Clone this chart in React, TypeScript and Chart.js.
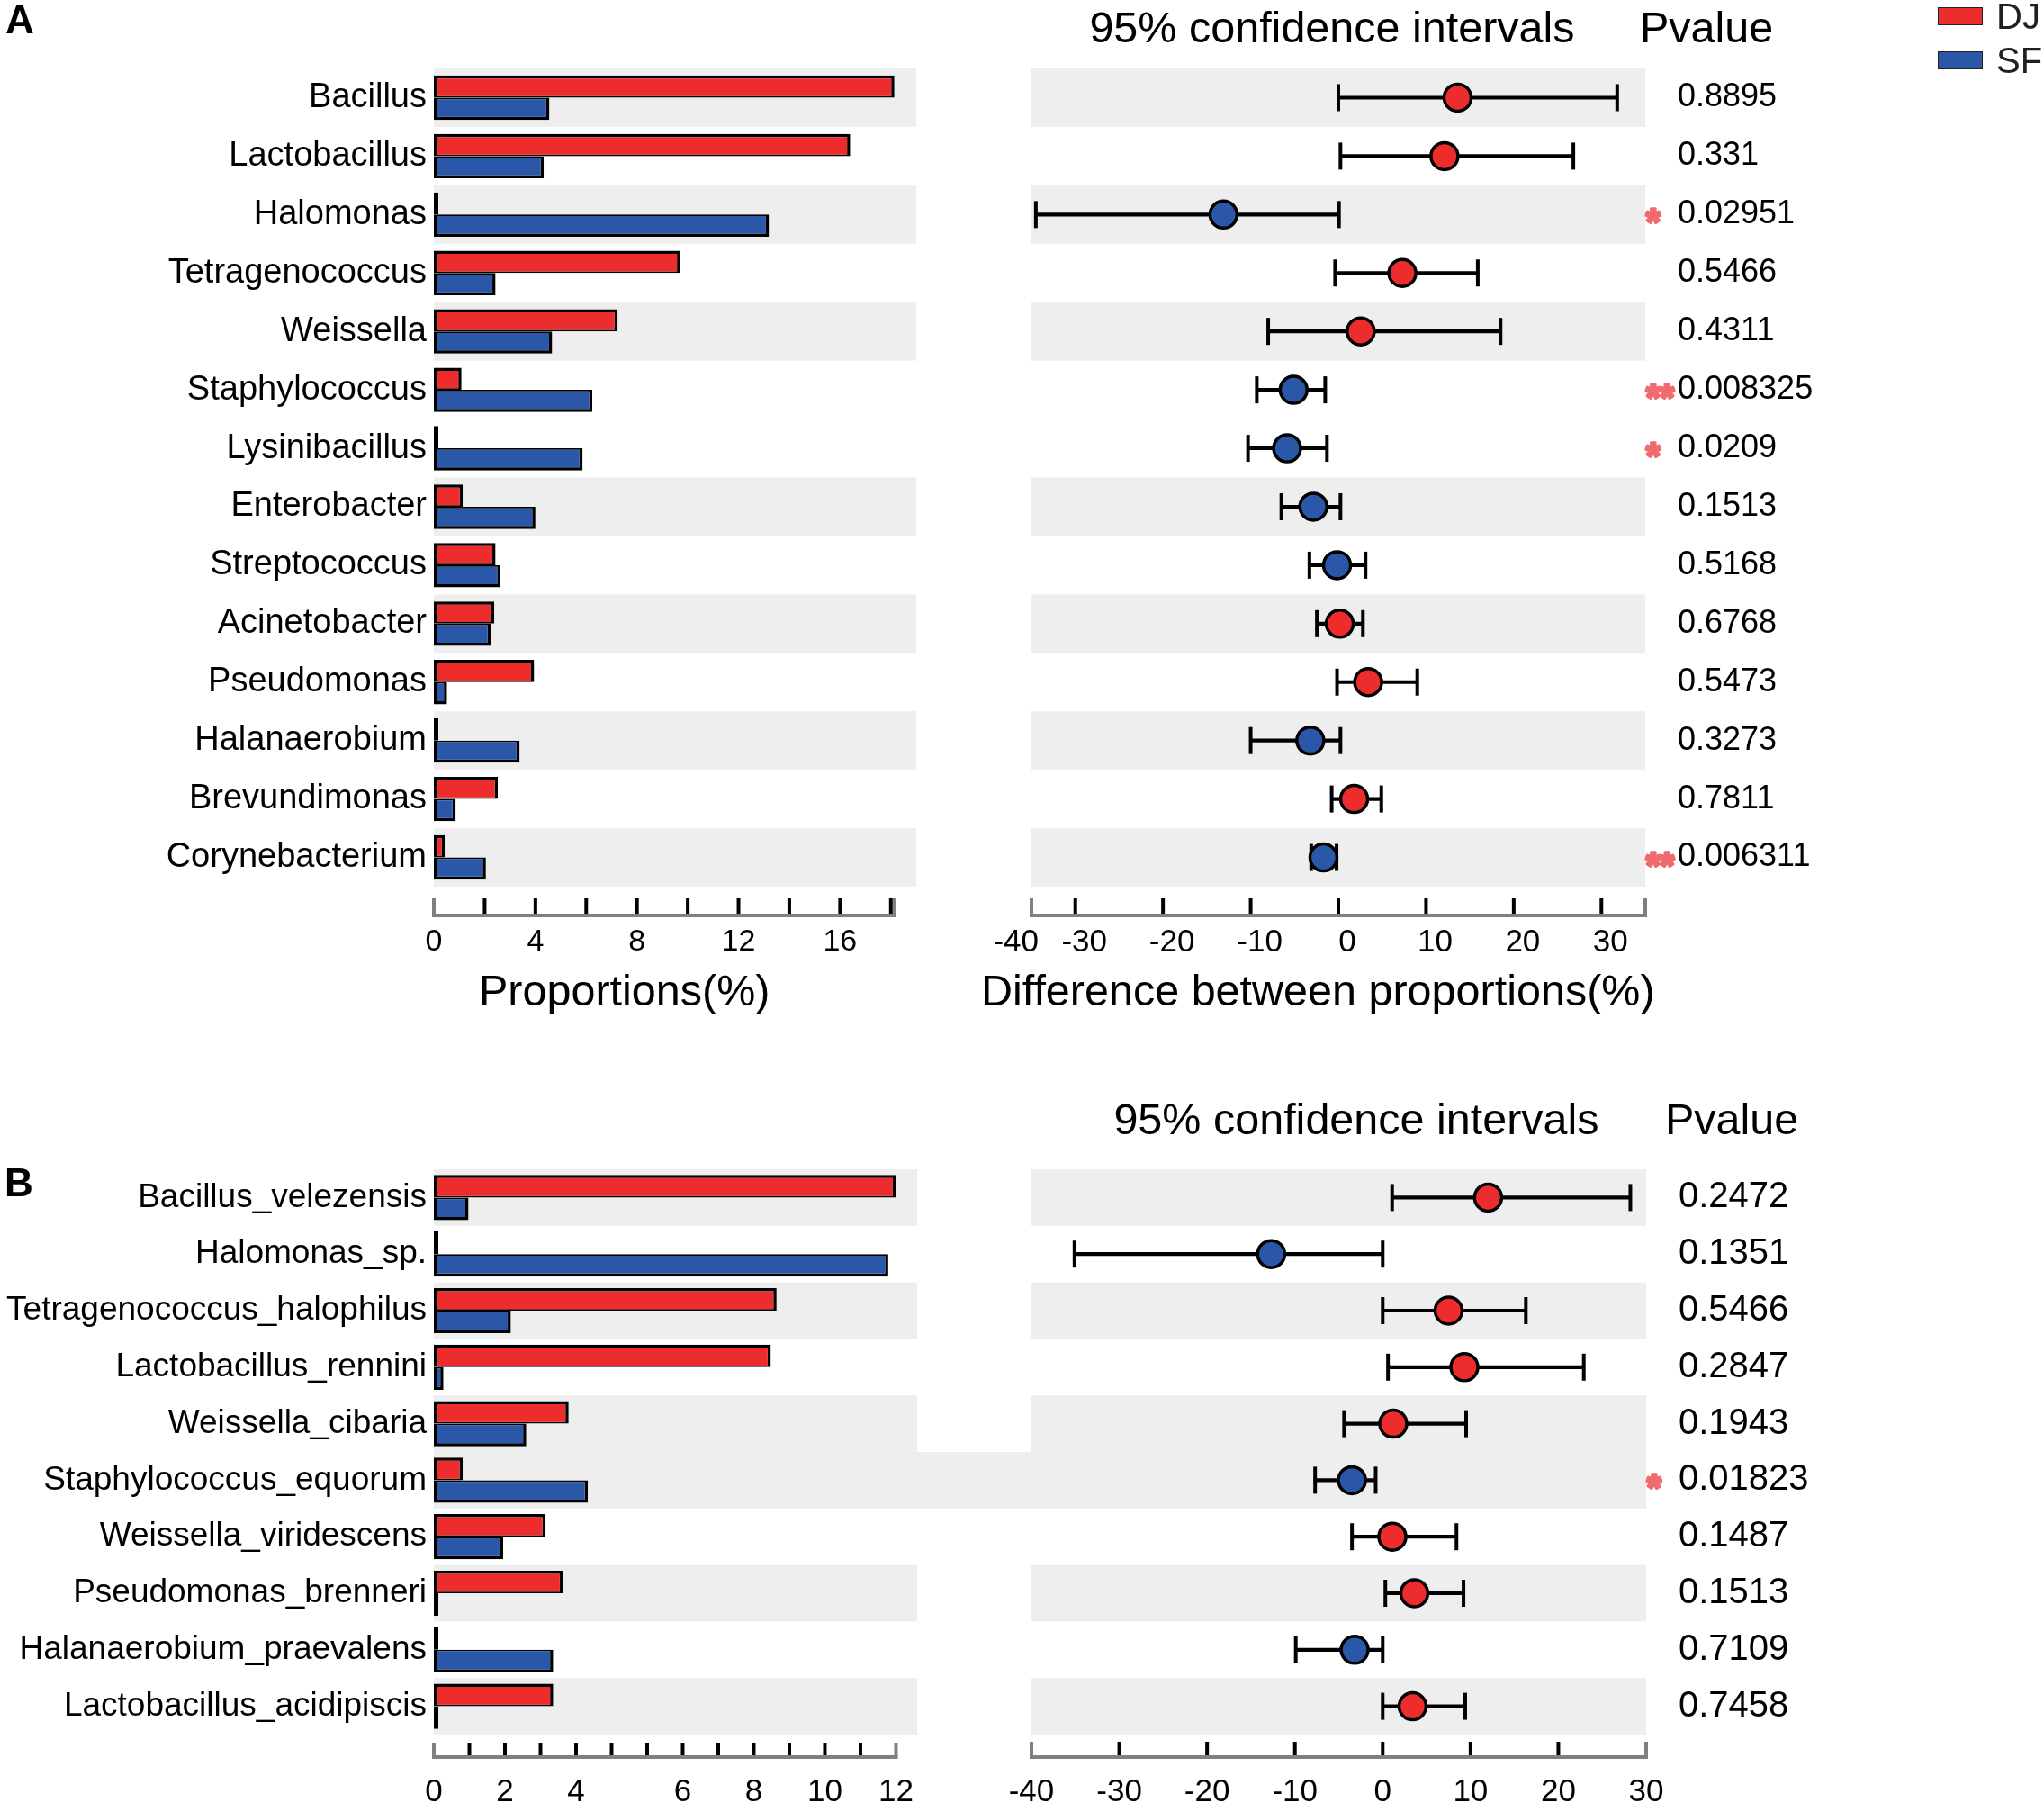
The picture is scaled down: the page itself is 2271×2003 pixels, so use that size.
import React, { useEffect, useRef } from "react";
import { Chart, registerables } from "chart.js";

Chart.register(...registerables);

const FONT = "'Liberation Sans', Arial, Helvetica, sans-serif";
const RED = "#ED2D2D";
const BLUE = "#2B57A8";
const BAND = "#EFEEEE";
const AXIS_GREY = "#808080";
const STAR = "#EF6B6F";

// ---------------- Panel A (genus) ----------------
const generaA = [
  "Bacillus", "Lactobacillus", "Halomonas", "Tetragenococcus", "Weissella",
  "Staphylococcus", "Lysinibacillus", "Enterobacter", "Streptococcus",
  "Acinetobacter", "Pseudomonas", "Halanaerobium", "Brevundimonas", "Corynebacterium",
];
const djA = [18.14, 16.4, 0.18, 9.7, 7.24, 1.09, 0.18, 1.14, 2.43, 2.38, 3.95, 0.18, 2.52, 0.43];
const sfA = [4.55, 4.33, 13.2, 2.43, 4.66, 6.24, 5.86, 4.0, 2.62, 2.24, 0.52, 3.38, 0.86, 2.05];
const diffA = [13.6, 12.1, -13.1, 7.3, 2.55, -5.1, -5.85, -2.85, -0.15, 0.16, 3.4, -3.2, 1.8, -1.7];
const lowA = [0.0, 0.24, -34.5, -0.37, -8.0, -9.3, -10.3, -6.5, -3.3, -2.45, -0.15, -10.0, -0.76, -3.1];
const highA = [31.8, 26.8, 0.07, 15.9, 18.5, -1.5, -1.3, 0.24, 3.1, 2.8, 9.0, 0.24, 4.9, -0.2];
const pvalA = [
  "0.8895", "0.331", "0.02951", "0.5466", "0.4311", "0.008325", "0.0209",
  "0.1513", "0.5168", "0.6768", "0.5473", "0.3273", "0.7811", "0.006311",
];
const sigA = ["", "", "*", "", "", "**", "*", "", "", "", "", "", "", "**"];
const bandRowsA = [0, 2, 4, 7, 9, 11, 13];
const barTicksA = [0, 2, 4, 6, 8, 10, 12, 14, 16, 18];
const barTickLabelsA = ["0", "", "4", "", "8", "", "12", "", "16", ""];
const ciTicksA = [-37.8, -30, -20, -10, 0, 10, 20, 30];
const ciTickLabelsA = ["-40", "-30", "-20", "-10", "0", "10", "20", "30"];

// ---------------- Panel B (species) ----------------
const speciesB = [
  "Bacillus_velezensis", "Halomonas_sp.", "Tetragenococcus_halophilus", "Lactobacillus_rennini",
  "Weissella_cibaria", "Staphylococcus_equorum", "Weissella_viridescens", "Pseudomonas_brenneri",
  "Halanaerobium_praevalens", "Lactobacillus_acidipiscis",
];
const djB = [12.0, 0.12, 8.9, 8.75, 3.5, 0.75, 2.9, 3.35, 0.12, 3.1];
const sfB = [0.9, 11.8, 2.0, 0.25, 2.4, 4.0, 1.8, 0.12, 3.1, 0.12];
const diffB = [12.0, -12.7, 7.5, 9.3, 1.2, -3.5, 1.1, 3.6, -3.2, 3.4];
const lowB = [1.07, -35.1, 0.0, 0.6, -4.4, -7.7, -3.5, 0.3, -9.9, 0.0];
const highB = [28.2, 0.0, 16.3, 22.9, 9.5, -0.8, 8.4, 9.2, 0.0, 9.4];
const pvalB = ["0.2472", "0.1351", "0.5466", "0.2847", "0.1943", "0.01823", "0.1487", "0.1513", "0.7109", "0.7458"];
const sigB = ["", "", "", "", "", "*", "", "", "", ""];
const bandRowsB = [0, 2, 4, 5, 7, 9];
const bridgeRowsB = [5];
const barTickLabelsB = ["0", "", "2", "", "4", "", "", "6", "", "8", "", "10", "", "12"];
const barTickTopB = 12;
const ciTicksB = [-40, -30, -20, -10, 0, 10, 20, 30];
const ciTickLabelsB = ["-40", "-30", "-20", "-10", "0", "10", "20", "30"];

// ---------------- plugins ----------------
function bandsPlugin(rows: number[], bridge: number[], side: "left" | "right") {
  return {
    id: "bands",
    beforeDatasetsDraw(chart: any) {
      const { ctx, chartArea, scales } = chart;
      const y = scales.y;
      const n = chart.data.labels.length;
      const h = (y.bottom - y.top) / n;
      ctx.save();
      ctx.fillStyle = BAND;
      rows.forEach((r) => {
        const cy = y.getPixelForValue(r);
        let x0 = chartArea.left;
        let x1 = chartArea.right;
        if (bridge.includes(r)) {
          if (side === "right") x1 = chart.width;
          else x0 = 0;
        }
        ctx.fillRect(x0, cy - h / 2, x1 - x0, h);
      });
      ctx.restore();
    },
  };
}

function axisPlugin(start: number, end: number, gap: number, tickLen: number) {
  return {
    id: "axisDecor",
    afterDraw(chart: any) {
      const { ctx, chartArea, scales } = chart;
      const x = scales.x;
      const yl = chartArea.bottom + gap;
      const xs = x.getPixelForValue(start);
      const xe = x.getPixelForValue(end);
      ctx.save();
      ctx.lineWidth = 4;
      ctx.strokeStyle = "#000";
      x.ticks.forEach((t: any) => {
        if (t.value > start + 1e-6 && t.value < end - 1e-6) {
          const px = x.getPixelForValue(t.value);
          ctx.beginPath();
          ctx.moveTo(px, yl - tickLen);
          ctx.lineTo(px, yl);
          ctx.stroke();
        }
      });
      ctx.strokeStyle = AXIS_GREY;
      ctx.beginPath();
      ctx.moveTo(xs - 2, yl);
      ctx.lineTo(xe + 2, yl);
      ctx.stroke();
      [xs, xe].forEach((px) => {
        ctx.beginPath();
        ctx.moveTo(px, yl - tickLen);
        ctx.lineTo(px, yl);
        ctx.stroke();
      });
      ctx.restore();
    },
  };
}

function ciPlugin(low: number[], high: number[], pvals: string[], sig: string[], pFont: number) {
  return {
    id: "ciExtras",
    beforeDatasetsDraw(chart: any) {
      const { ctx, scales } = chart;
      const x = scales.x;
      const y = scales.y;
      ctx.save();
      ctx.strokeStyle = "#000";
      ctx.lineWidth = 4;
      low.forEach((l, i) => {
        const cy = y.getPixelForValue(i);
        [l, high[i]].forEach((v) => {
          const px = x.getPixelForValue(v);
          ctx.beginPath();
          ctx.moveTo(px, cy - 15);
          ctx.lineTo(px, cy + 15);
          ctx.stroke();
        });
      });
      ctx.restore();
    },
    afterDraw(chart: any) {
      const { ctx, chartArea, scales } = chart;
      const y = scales.y;
      ctx.save();
      pvals.forEach((p, i) => {
        const cy = y.getPixelForValue(i);
        ctx.font = `${pFont}px ${FONT}`;
        ctx.fillStyle = "#000";
        ctx.textAlign = "left";
        ctx.textBaseline = "middle";
        ctx.fillText(p, chartArea.right + 36, cy);
        if (sig[i]) {
          ctx.font = `bold 40px ${FONT}`;
          ctx.fillStyle = STAR;
          ctx.strokeStyle = STAR;
          ctx.lineWidth = 3.5;
          ctx.lineJoin = "round";
          ctx.textBaseline = "alphabetic";
          ctx.fillText(sig[i], chartArea.right + 1, cy + 22);
          ctx.strokeText(sig[i], chartArea.right + 1, cy + 22);
        }
      });
      ctx.restore();
    },
  };
}

// ---------------- chart builders ----------------
function makeBar(canvas: HTMLCanvasElement, c: any) {
  return new Chart(canvas, {
    type: "bar",
    data: {
      labels: c.labels,
      datasets: [
        {
          label: "DJ",
          data: c.dj,
          backgroundColor: RED,
          borderColor: "#000",
          borderWidth: { top: 3.5, right: 3.5, bottom: 1.75, left: 3.5 },
          borderSkipped: false,
          categoryPercentage: c.catPct,
          barPercentage: 1,
        },
        {
          label: "SF",
          data: c.sf,
          backgroundColor: BLUE,
          borderColor: "#000",
          borderWidth: { top: 1.75, right: 3.5, bottom: 3.5, left: 3.5 },
          borderSkipped: false,
          categoryPercentage: c.catPct,
          barPercentage: 1,
        },
      ],
    },
    options: {
      indexAxis: "y",
      animation: false,
      responsive: false,
      devicePixelRatio: 1,
      events: [],
      layout: { padding: { top: c.padTop, right: c.padRight, left: 0, bottom: 0 } },
      plugins: { legend: { display: false }, tooltip: { enabled: false } },
      scales: {
        x: {
          type: "linear",
          min: 0,
          max: c.xMax,
          grid: { display: false, drawTicks: false },
          border: { display: false },
          afterBuildTicks: (s: any) => {
            s.ticks = c.ticks.map((v: number) => ({ value: v }));
          },
          afterFit: (s: any) => {
            s.height = c.xHeight;
            s.paddingLeft = 0;
            s.paddingRight = 0;
          },
          ticks: {
            autoSkip: false,
            maxRotation: 0,
            padding: c.tickPad,
            color: "#000",
            font: { family: FONT, size: c.tickFont },
            callback: (_v: any, i: number) => c.tickLabels[i],
          },
        },
        y: {
          type: "category",
          grid: { display: false, drawTicks: false },
          border: { display: false },
          afterFit: (s: any) => {
            s.width = c.yWidth;
          },
          ticks: {
            autoSkip: false,
            padding: 8,
            color: "#000",
            font: { family: FONT, size: c.labelFont },
          },
        },
      },
    } as any,
    plugins: [bandsPlugin(c.bandRows, c.bridgeRows, "right"), axisPlugin(0, c.axisEnd, c.axisGap, c.tickLen)] as any,
  });
}

function makeCI(canvas: HTMLCanvasElement, c: any) {
  const pts = c.diff.map((d: number, i: number) => ({ x: d, y: c.labels[i] }));
  return new Chart(canvas, {
    type: "bar",
    data: {
      labels: c.labels,
      datasets: [
        {
          type: "line",
          data: pts,
          indexAxis: "y",
          showLine: false,
          pointRadius: 15,
          pointHoverRadius: 15,
          pointBackgroundColor: c.diff.map((d: number) => (d > 0 ? RED : BLUE)),
          pointBorderColor: "#000",
          pointBorderWidth: 3.5,
          order: 0,
        },
        {
          type: "bar",
          data: c.low.map((l: number, i: number) => [l, c.high[i]]),
          backgroundColor: "#000",
          borderWidth: 0,
          barThickness: 3.5,
          order: 1,
        },
      ],
    } as any,
    options: {
      indexAxis: "y",
      animation: false,
      responsive: false,
      devicePixelRatio: 1,
      events: [],
      layout: { padding: { top: c.padTop, right: c.padRight, left: c.padLeft, bottom: 0 } },
      plugins: { legend: { display: false }, tooltip: { enabled: false } },
      scales: {
        x: {
          type: "linear",
          min: c.xMin,
          max: c.xMax,
          grid: { display: false, drawTicks: false },
          border: { display: false },
          afterBuildTicks: (s: any) => {
            s.ticks = c.ticks.map((v: number) => ({ value: v }));
          },
          afterFit: (s: any) => {
            s.height = c.xHeight;
            s.paddingLeft = 0;
            s.paddingRight = 0;
          },
          ticks: {
            autoSkip: false,
            maxRotation: 0,
            padding: c.tickPad,
            labelOffset: c.labelOffset,
            color: "#000",
            font: { family: FONT, size: c.tickFont },
            callback: (_v: any, i: number) => c.tickLabels[i],
          },
        },
        y: { type: "category", display: false },
      },
    } as any,
    plugins: [
      bandsPlugin(c.bandRows, c.bridgeRows, "left"),
      ciPlugin(c.low, c.high, c.pvals, c.sig, c.pFont),
      axisPlugin(c.axisStart, c.axisEnd, c.axisGap, c.tickLen),
    ] as any,
  });
}

const T = (text: string, style: React.CSSProperties) => (
  <div
    style={{
      position: "absolute",
      whiteSpace: "nowrap",
      lineHeight: 1,
      fontFamily: FONT,
      color: "#000",
      ...style,
    }}
  >
    {text}
  </div>
);

export default function App() {
  const aBar = useRef<HTMLCanvasElement>(null);
  const aCI = useRef<HTMLCanvasElement>(null);
  const bBar = useRef<HTMLCanvasElement>(null);
  const bCI = useRef<HTMLCanvasElement>(null);

  useEffect(() => {
    const barTicksB = barTickLabelsB.map((_, k) => (k * barTickTopB) / (barTickLabelsB.length - 1));
    const charts = [
      makeBar(aBar.current!, {
        labels: generaA, dj: djA, sf: sfA, xMax: 19, ticks: barTicksA, tickLabels: barTickLabelsA,
        tickFont: 34, tickPad: 41, axisEnd: 18.15, axisGap: 32, tickLen: 19, labelFont: 38,
        bandRows: bandRowsA, bridgeRows: [], padTop: 76, padRight: 82, xHeight: 155, yWidth: 482, catPct: 0.76,
      }),
      makeCI(aCI.current!, {
        labels: generaA, diff: diffA, low: lowA, high: highA, pvals: pvalA, sig: sigA, pFont: 36,
        xMin: -35, xMax: 35, ticks: ciTicksA, tickLabels: ciTickLabelsA, tickFont: 35, tickPad: 41, labelOffset: 10,
        axisStart: -35, axisEnd: 35, axisGap: 32, tickLen: 19,
        bandRows: bandRowsA, bridgeRows: [], padTop: 76, padLeft: 46, padRight: 443, xHeight: 155,
      }),
      makeBar(bBar.current!, {
        labels: speciesB, dj: djB, sf: sfB, xMax: 12.55, ticks: barTicksB, tickLabels: barTickLabelsB,
        tickFont: 35, tickPad: 43, axisEnd: 12, axisGap: 25, tickLen: 16, labelFont: 37,
        bandRows: bandRowsB, bridgeRows: bridgeRowsB, padTop: 99, padRight: 81, xHeight: 76, yWidth: 482, catPct: 0.8,
      }),
      makeCI(bCI.current!, {
        labels: speciesB, diff: diffB, low: lowB, high: highB, pvals: pvalB, sig: sigB, pFont: 40,
        xMin: -40, xMax: 30, ticks: ciTicksB, tickLabels: ciTickLabelsB, tickFont: 35, tickPad: 43, labelOffset: 0,
        axisStart: -40, axisEnd: 30, axisGap: 25, tickLen: 17,
        bandRows: bandRowsB, bridgeRows: bridgeRowsB, padTop: 99, padLeft: 46, padRight: 442, xHeight: 76,
      }),
    ];
    return () => charts.forEach((ch) => ch.destroy());
  }, []);

  return (
    <div
      style={{
        position: "absolute",
        left: 0,
        top: 0,
        width: 2271,
        height: 2003,
        background: "#fff",
        overflow: "hidden",
        fontFamily: FONT,
      }}
    >
      <canvas ref={aBar} width={1100} height={1140} style={{ position: "absolute", left: 0, top: 0 }} />
      <canvas ref={aCI} width={1171} height={1140} style={{ position: "absolute", left: 1100, top: 0 }} />
      <canvas ref={bBar} width={1100} height={803} style={{ position: "absolute", left: 0, top: 1200 }} />
      <canvas ref={bCI} width={1171} height={803} style={{ position: "absolute", left: 1100, top: 1200 }} />

      {T("A", { left: 6, top: 0, fontSize: 44, fontWeight: "bold" })}
      {T("B", { left: 5, top: 1292, fontSize: 44, fontWeight: "bold" })}

      {T("95% confidence intervals", { left: 1480, top: 6, fontSize: 48.5, transform: "translateX(-50%)" })}
      {T("Pvalue", { left: 1822, top: 6, fontSize: 48.5 })}
      {T("95% confidence intervals", { left: 1507, top: 1219, fontSize: 48.5, transform: "translateX(-50%)" })}
      {T("Pvalue", { left: 1850, top: 1219, fontSize: 48.5 })}

      {T("Proportions(%)", { left: 532, top: 1076, fontSize: 48.5 })}
      {T("Difference between proportions(%)", { left: 1090, top: 1076, fontSize: 48.5 })}

      <div
        style={{
          position: "absolute", left: 2153, top: 8, width: 50, height: 20,
          background: RED, border: "1.5px solid #222", boxSizing: "border-box",
        }}
      />
      <div
        style={{
          position: "absolute", left: 2153, top: 57, width: 50, height: 20,
          background: BLUE, border: "1.5px solid #222", boxSizing: "border-box",
        }}
      />
      {T("DJ", { left: 2218, top: -2, fontSize: 40, color: "#231F20" })}
      {T("SF", { left: 2218, top: 47, fontSize: 40, color: "#231F20" })}
    </div>
  );
}
